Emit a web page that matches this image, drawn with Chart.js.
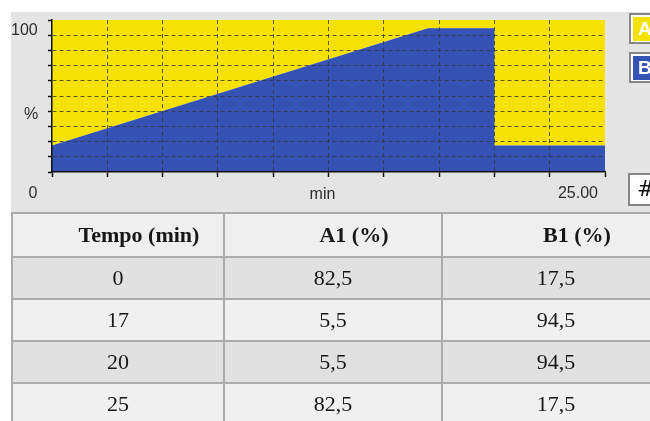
<!DOCTYPE html>
<html>
<head>
<meta charset="utf-8">
<script src="https://cdn.jsdelivr.net/npm/chart.js@4/dist/chart.umd.min.js"></script>
<style>
  html, body { margin: 0; padding: 0; background: #ffffff; width: 650px; height: 421px; overflow: hidden; }
  #panel { position: absolute; left: 11px; top: 12px; width: 639px; height: 201px; background: #e4e4e4; }
  #gradChart { display: block; }
  #gradTable {
    position: absolute; left: 11px; top: 212px;
    border-collapse: collapse; table-layout: fixed; width: 658px;
    font-family: "Liberation Serif", "Times New Roman", serif; font-size: 22px; color: #161616;
  }
  #gradTable th, #gradTable td { border: 2px solid #ababab; text-align: center; padding: 0; }
  #gradTable th { font-weight: bold; background: #efefef; padding-left: 42px; height: 42px; }
  #gradTable td { height: 40px; }
  #gradTable tr.dark td { background: #e1e1e1; }
  #gradTable tr.light td { background: #f0f0f0; }
</style>
</head>
<body>
<div id="panel"><canvas id="gradChart" width="639" height="201"></canvas></div>
<table id="gradTable">
  <colgroup><col style="width:212px"><col style="width:218px"><col style="width:228px"></colgroup>
  <thead><tr id="headRow"></tr></thead>
  <tbody id="bodyRows"></tbody>
</table>
<script>
// Gradient program trace (time in min, composition in %)
const traceTime = [0, 17, 20, 20, 25];
const traceB = [17.5, 94.5, 94.5, 17.5, 17.5];
const traceA = [82.5, 5.5, 5.5, 82.5, 82.5];

// Axis captions
const yTopLabel = '100';
const yUnitLabel = '%';
const originLabel = '0';
const xUnitLabel = 'min';
const xEndLabel = '25.00';

// Legend keys
const legendKeys = ['A', 'B'];
const gridKey = '#';

// Gradient table
const tableHeaders = ['Tempo (min)', 'A1 (%)', 'B1 (%)'];
const tableTime = ['0', '17', '20', '25'];
const tableA1 = ['82,5', '5,5', '5,5', '82,5'];
const tableB1 = ['17,5', '94,5', '94,5', '17,5'];

const YELLOW = '#f6e200';
const BLUE = '#3553b4';

// Build the table
const headRow = document.getElementById('headRow');
tableHeaders.forEach(h => { const th = document.createElement('th'); th.textContent = h; headRow.appendChild(th); });
const bodyRows = document.getElementById('bodyRows');
tableTime.forEach((t, i) => {
  const tr = document.createElement('tr');
  tr.className = i % 2 === 0 ? 'dark' : 'light';
  [t, tableA1[i], tableB1[i]].forEach(v => { const td = document.createElement('td'); td.textContent = v; tr.appendChild(td); });
  bodyRows.appendChild(tr);
});

// Upper (A) boundary sits on top of the B area
const traceTop = traceB.map((b, i) => b + traceA[i]);
const ptsB = traceTime.map((x, i) => ({ x, y: traceB[i] }));
const ptsTop = traceTime.map((x, i) => ({ x, y: traceTop[i] }));

function drawKey(ctx, x, y, h, fill, text, textColor) {
  ctx.fillStyle = '#858585';
  ctx.fillRect(x, y, 40, h);
  ctx.fillStyle = '#fbfbfb';
  ctx.fillRect(x + 2, y + 2, 40, h - 4);
  ctx.fillStyle = fill;
  ctx.fillRect(x + 4, y + 4, 40, h - 7);
  ctx.fillStyle = textColor;
  ctx.fillText(text, x + 9, y + h / 2 + 1);
}

const decor = {
  id: 'decor',
  afterDraw(chart) {
    const { ctx, chartArea: a } = chart;
    ctx.save();
    ctx.font = '16px "Liberation Sans", Arial, sans-serif';
    ctx.fillStyle = '#2e2e2e';
    ctx.textBaseline = 'middle';
    ctx.textAlign = 'left';
    ctx.fillText(yTopLabel, 0, a.top + 11);
    ctx.textAlign = 'center';
    ctx.fillText(yUnitLabel, 20, a.top + a.height * 0.625);
    ctx.fillText(originLabel, 22, a.bottom + 22);
    ctx.fillText(xUnitLabel, (a.left + a.right) / 2 - 6, a.bottom + 23);
    ctx.textAlign = 'right';
    ctx.fillText(xEndLabel, a.right - 7, a.bottom + 22);

    // keys on the right edge
    ctx.textAlign = 'left';
    ctx.font = 'bold 19px "Liberation Sans", Arial, sans-serif';
    const kx = a.right + 24;
    drawKey(ctx, kx, 1, 31, YELLOW, legendKeys[0], '#ffffff');
    drawKey(ctx, kx, 40, 31, BLUE, legendKeys[1], '#ffffff');
    ctx.font = '22px "DejaVu Sans", sans-serif';
    drawKey(ctx, kx - 1, 161, 33, '#ffffff', gridKey, '#111111');
    ctx.restore();
  }
};

const gridColor = 'rgba(55,55,55,0.8)';

new Chart(document.getElementById('gradChart'), {
  type: 'line',
  data: {
    datasets: [
      { label: 'B', data: ptsB, backgroundColor: BLUE, borderColor: BLUE, borderWidth: 0, pointRadius: 0, fill: 'origin', tension: 0 },
      { label: 'A', data: ptsTop, backgroundColor: YELLOW, borderColor: YELLOW, borderWidth: 0, pointRadius: 0, fill: '-1', tension: 0 }
    ]
  },
  options: {
    responsive: false,
    animation: false,
    events: [],
    layout: { padding: { top: 8, right: 45, left: 0, bottom: 0 } },
    plugins: { legend: { display: false }, tooltip: { enabled: false } },
    scales: {
      x: {
        type: 'linear', min: 0, max: 25,
        ticks: { display: false, stepSize: 2.5 },
        afterFit(s) { s.height = 41; },
        grid: {
          z: 1,
          color: c => (c.tick && (c.tick.value === 0 || c.tick.value === 25)) ? 'rgba(0,0,0,0)' : gridColor,
          lineWidth: 1, tickLength: 5, tickColor: '#111', tickWidth: 1.5
        },
        border: { display: true, z: 2, color: '#111', width: 1.5, dash: [4, 3] }
      },
      y: {
        min: 0, max: 100,
        ticks: { display: false, stepSize: 10 },
        afterFit(s) { s.width = 41; },
        grid: {
          z: 1,
          color: c => (c.tick && (c.tick.value === 0 || c.tick.value === 100)) ? 'rgba(0,0,0,0)' : gridColor,
          lineWidth: 1, tickLength: 4, tickColor: '#111', tickWidth: 1.5
        },
        border: { display: true, z: 2, color: '#111', width: 1.5, dash: [4, 3] }
      }
    }
  },
  plugins: [decor]
});
</script>
</body>
</html>
